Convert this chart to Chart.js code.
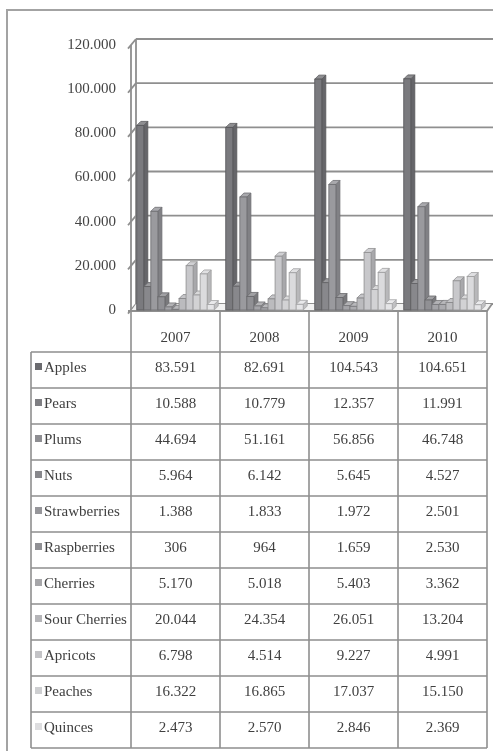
<!DOCTYPE html>
<html>
<head>
<meta charset="utf-8">
<style>
  html, body { margin: 0; padding: 0; background: #fff; }
  canvas { display: block; }
</style>
<script src="https://cdn.jsdelivr.net/npm/chart.js@4.4.0/dist/chart.umd.min.js"></script>
</head>
<body>
<canvas id="c" width="493" height="751"></canvas>
<script>
// Fruit production by year
const years = ['2007', '2008', '2009', '2010'];
const fruits = ['Apples', 'Pears', 'Plums', 'Nuts', 'Strawberries', 'Raspberries',
                'Cherries', 'Sour Cherries', 'Apricots', 'Peaches', 'Quinces'];

const apples       = [83591, 82691, 104543, 104651];
const pears        = [10588, 10779, 12357, 11991];
const plums        = [44694, 51161, 56856, 46748];
const nuts         = [5964, 6142, 5645, 4527];
const strawberries = [1388, 1833, 1972, 2501];
const raspberries  = [306, 964, 1659, 2530];
const cherries     = [5170, 5018, 5403, 3362];
const sourCherries = [20044, 24354, 26051, 13204];
const apricots     = [6798, 4514, 9227, 4991];
const peaches      = [16322, 16865, 17037, 15150];
const quinces      = [2473, 2570, 2846, 2369];

const seriesValues = [apples, pears, plums, nuts, strawberries, raspberries,
                      cherries, sourCherries, apricots, peaches, quinces];

const axisMax = 120000;
const axisStep = 20000;

const barColors = ['#7a7a7e', '#88888c', '#9a9a9e', '#909094', '#a4a4a8', '#ababaf',
                   '#bbbbbe', '#c8c8cb', '#d2d2d4', '#dbdbdd', '#e5e5e7'];
const markerColors = ['#6b6b6f', '#7f7f83', '#8e8e92', '#88888c', '#96969a', '#909094',
                      '#a6a6a9', '#b5b5b8', '#c3c3c6', '#cecfd1', '#dddddf'];

const FONT = "15px 'Liberation Serif', 'Times New Roman', serif";
const TEXT = '#404040';
const LINE = '#8f8f8f';
const WALL_DX = 5, WALL_DY = 6;   // back wall offset
const BAR_DX = 4, BAR_DY = 4;     // bar depth

function fmt(n) {
  return String(n).replace(/\B(?=(\d{3})+(?!\d))/g, '.');
}

function shade(hex, f) {
  const v = parseInt(hex.slice(1), 16);
  let r = (v >> 16) & 255, g = (v >> 8) & 255, b = v & 255;
  const t = c => Math.max(0, Math.min(255, Math.round(f >= 1 ? c + (255 - c) * (f - 1) : c * f)));
  return `rgb(${t(r)},${t(g)},${t(b)})`;
}

// Frame, back wall grid, side wall and floor
const wallsPlugin = {
  id: 'walls',
  beforeDatasetsDraw(chart) {
    const ctx = chart.ctx;
    const a = chart.chartArea;
    const y = chart.scales.y;
    const W = chart.width, H = chart.height;
    ctx.save();
    // outer frame
    ctx.strokeStyle = '#a3a3a3';
    ctx.lineWidth = 2;
    ctx.beginPath();
    ctx.moveTo(7, H);
    ctx.lineTo(7, 10);
    ctx.lineTo(W, 10);
    ctx.stroke();

    ctx.strokeStyle = LINE;
    ctx.lineWidth = 1.8;
    const base = y.getPixelForValue(0);
    const topF = y.getPixelForValue(axisMax);
    // gridlines on the back wall, with short side-wall diagonals
    for (let v = 0; v <= axisMax; v += axisStep) {
      const py = y.getPixelForValue(v);
      ctx.beginPath();
      ctx.moveTo(a.left + WALL_DX, py - WALL_DY);
      ctx.lineTo(W, py - WALL_DY);
      ctx.stroke();
      ctx.beginPath();
      ctx.moveTo(a.left - 3, py + 3.6);
      ctx.lineTo(a.left + WALL_DX, py - WALL_DY);
      ctx.stroke();
    }
    // front vertical axis and back wall edge
    ctx.beginPath();
    ctx.moveTo(a.left, topF);
    ctx.lineTo(a.left, base + 1);
    ctx.moveTo(a.left + WALL_DX, topF - WALL_DY);
    ctx.lineTo(a.left + WALL_DX, base - WALL_DY);
    ctx.stroke();
    // floor
    ctx.fillStyle = '#f2f2f2';
    ctx.beginPath();
    ctx.moveTo(a.left, base + 1);
    ctx.lineTo(a.right, base + 1);
    ctx.lineTo(a.right + WALL_DX, base - WALL_DY);
    ctx.lineTo(a.left + WALL_DX, base - WALL_DY);
    ctx.closePath();
    ctx.fill();
    ctx.beginPath();
    ctx.moveTo(a.left - 3, base + 1);
    ctx.lineTo(a.right, base + 1);
    ctx.lineTo(a.right + WALL_DX, base - WALL_DY);
    ctx.stroke();
    ctx.restore();
  }
};

// Bars with top and side faces, drawn left to right within each group
const bars3dPlugin = {
  id: 'bars3d',
  afterDatasetsDraw(chart) {
    const ctx = chart.ctx;
    ctx.save();
    ctx.lineWidth = 0.8;
    chart.data.datasets.forEach((ds, i) => {
      const meta = chart.getDatasetMeta(i);
      const col = ds.backgroundColor;
      meta.data.forEach(bar => {
        const { x, y, base, width } = bar.getProps(['x', 'y', 'base', 'width'], true);
        const l = x - width / 2, r = x + width / 2;
        ctx.strokeStyle = shade(col, 0.72);
        // side face
        ctx.fillStyle = shade(col, 0.84);
        ctx.beginPath();
        ctx.moveTo(r, y);
        ctx.lineTo(r + BAR_DX, y - BAR_DY);
        ctx.lineTo(r + BAR_DX, base - BAR_DY);
        ctx.lineTo(r, base);
        ctx.closePath();
        ctx.fill();
        ctx.stroke();
        // top face
        ctx.fillStyle = shade(col, 1.15);
        ctx.beginPath();
        ctx.moveTo(l, y);
        ctx.lineTo(l + BAR_DX, y - BAR_DY);
        ctx.lineTo(r + BAR_DX, y - BAR_DY);
        ctx.lineTo(r, y);
        ctx.closePath();
        ctx.fill();
        ctx.stroke();
        // front face
        ctx.fillStyle = col;
        ctx.fillRect(l, y, width, base - y);
        ctx.strokeRect(l, y, width, base - y);
      });
    });
    ctx.restore();
  }
};

// Data table under the plot
const tablePlugin = {
  id: 'dataTable',
  afterDraw(chart) {
    const ctx = chart.ctx;
    const a = chart.chartArea;
    const xs = chart.scales.x;
    const base = chart.scales.y.getPixelForValue(0) + 1;
    const colW = (a.right - a.left) / years.length;
    const tableLeft = 31;
    const headBottom = 352;
    const rowH = 36;
    const tableBottom = headBottom + rowH * fruits.length;

    ctx.save();
    ctx.strokeStyle = LINE;
    ctx.lineWidth = 1.6;
    ctx.beginPath();
    for (let k = 0; k <= years.length; k++) {
      const px = a.left + k * colW;
      ctx.moveTo(px, base);
      ctx.lineTo(px, tableBottom);
    }
    ctx.moveTo(tableLeft, headBottom);
    ctx.lineTo(tableLeft, tableBottom);
    for (let r = 0; r <= fruits.length; r++) {
      const py = headBottom + r * rowH;
      ctx.moveTo(tableLeft, py);
      ctx.lineTo(a.right, py);
    }
    ctx.stroke();

    ctx.font = FONT;
    ctx.fillStyle = TEXT;
    ctx.textBaseline = 'middle';
    ctx.textAlign = 'center';
    years.forEach((yr, k) => {
      ctx.fillText(yr, xs.getPixelForValue(k), 338);
    });

    fruits.forEach((name, r) => {
      const cy = headBottom + r * rowH + rowH / 2 - 2;
      ctx.fillStyle = markerColors[r];
      ctx.fillRect(35, cy - 5, 7, 7);
      ctx.fillStyle = TEXT;
      ctx.textAlign = 'left';
      ctx.fillText(name, 44, cy);
      ctx.textAlign = 'center';
      seriesValues[r].forEach((v, k) => {
        ctx.fillText(fmt(v), xs.getPixelForValue(k), cy);
      });
    });
    ctx.restore();
  }
};

new Chart(document.getElementById('c'), {
  type: 'bar',
  data: {
    labels: years,
    datasets: fruits.map((name, i) => ({
      label: name,
      data: seriesValues[i],
      backgroundColor: barColors[i],
      borderWidth: 0,
      barPercentage: 1,
      categoryPercentage: 0.87
    }))
  },
  options: {
    responsive: false,
    animation: false,
    devicePixelRatio: 1,
    layout: { padding: { top: 45, right: 6, bottom: 441, left: 0 } },
    plugins: { legend: { display: false }, tooltip: { enabled: false } },
    scales: {
      x: { display: false },
      y: {
        min: 0,
        max: axisMax,
        afterFit(scale) { scale.width = 131; },
        grid: { display: false },
        border: { display: false },
        ticks: {
          stepSize: axisStep,
          padding: 7,
          color: '#444',
          font: { family: "'Liberation Serif', 'Times New Roman', serif", size: 15 },
          callback: v => fmt(v)
        }
      }
    }
  },
  plugins: [wallsPlugin, bars3dPlugin, tablePlugin]
});
</script>
</body>
</html>
